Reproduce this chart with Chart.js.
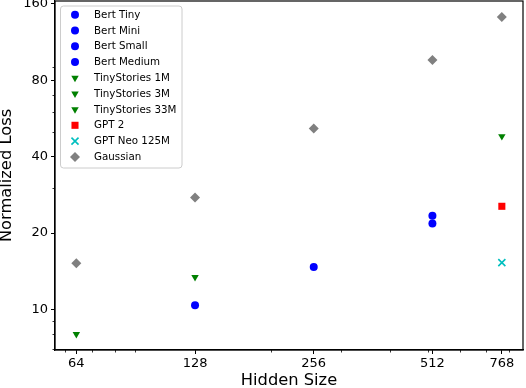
<!DOCTYPE html>
<html>
<head>
<meta charset="utf-8">
<script src="https://cdn.jsdelivr.net/npm/chart.js@4"></script>
<style>
html,body{margin:0;padding:0;background:#fff;}
canvas{display:block;}
</style>
</head>
<body>
<canvas id="c" width="526" height="388"></canvas>
<script>
// ---- data ----
const bertNames = ['Bert Tiny', 'Bert Mini', 'Bert Small', 'Bert Medium'];
const bertSizes = [128, 256, 512, 512];
const bertLoss = [10.4, 14.7, 23.4, 21.8];

const tinyNames = ['TinyStories 1M', 'TinyStories 3M', 'TinyStories 33M'];
const tinySizes = [64, 128, 768];
const tinyLoss = [8.0, 13.4, 48.1];

const gpt2Sizes = [768];
const gpt2Loss = [25.5];

const neoSizes = [768];
const neoLoss = [15.3];

const gaussianSizes = [64, 128, 256, 512, 768];
const gaussianLoss = [15.2, 27.6, 51.6, 96, 142];

const xTicks = [64, 128, 256, 512, 768];
const yTicks = [10, 20, 40, 80, 160];
const xMinorTicks = [60, 70, 80, 90, 200, 300, 400, 500, 600, 700, 800];
const yMinorTicks = [7, 8, 9, 30, 50, 60, 70, 90];

// ---- styles ----
const FONT = "'DejaVu Sans', sans-serif";
const BLUE = '#0000ff', GREEN = '#008000', RED = '#ff0000', CYAN = '#00bfbf', GRAY = '#808080';

const datasets = [];
bertNames.forEach((n, i) => datasets.push({
  label: n, data: [{x: bertSizes[i], y: bertLoss[i]}],
  pointStyle: 'circle', radius: 4, backgroundColor: BLUE, borderColor: BLUE, borderWidth: 0
}));
tinyNames.forEach((n, i) => datasets.push({
  label: n, data: [{x: tinySizes[i], y: tinyLoss[i]}],
  pointStyle: 'triangle', rotation: 180, radius: 4.3, backgroundColor: GREEN, borderColor: GREEN, borderWidth: 0
}));
datasets.push({
  label: 'GPT 2', data: gpt2Sizes.map((x, i) => ({x, y: gpt2Loss[i]})),
  pointStyle: 'rect', radius: 5, backgroundColor: RED, borderColor: RED, borderWidth: 0
});
datasets.push({
  label: 'GPT Neo 125M', data: neoSizes.map((x, i) => ({x, y: neoLoss[i]})),
  pointStyle: 'crossRot', radius: 5, backgroundColor: CYAN, borderColor: CYAN, borderWidth: 1.6
});
datasets.push({
  label: 'Gaussian', data: gaussianSizes.map((x, i) => ({x, y: gaussianLoss[i]})),
  pointStyle: 'rectRot', radius: 5, backgroundColor: GRAY, borderColor: GRAY, borderWidth: 0
});

function drawMarker(ctx, ds, x, y) {
  const opts = {
    pointStyle: ds.pointStyle, radius: ds.radius, rotation: ds.rotation || 0,
    borderWidth: ds.borderWidth
  };
  ctx.save();
  ctx.fillStyle = ds.backgroundColor;
  ctx.strokeStyle = ds.borderColor;
  ctx.lineWidth = ds.borderWidth || 0;
  Chart.helpers.drawPoint(ctx, opts, x, y);
  ctx.restore();
}

function roundRect(ctx, x, y, w, h, r) {
  ctx.beginPath();
  ctx.moveTo(x + r, y);
  ctx.lineTo(x + w - r, y);
  ctx.arcTo(x + w, y, x + w, y + r, r);
  ctx.lineTo(x + w, y + h - r);
  ctx.arcTo(x + w, y + h, x + w - r, y + h, r);
  ctx.lineTo(x + r, y + h);
  ctx.arcTo(x, y + h, x, y + h - r, r);
  ctx.lineTo(x, y + r);
  ctx.arcTo(x, y, x + r, y, r);
  ctx.closePath();
}

const extras = {
  id: 'extras',
  afterDraw(chart) {
    const ctx = chart.ctx;
    const a = chart.chartArea;
    const xs = chart.scales.x, ys = chart.scales.y;
    ctx.save();
    // frame
    ctx.strokeStyle = '#000';
    ctx.lineWidth = 1.2;
    ctx.strokeRect(a.left, a.top, a.right - a.left, a.bottom - a.top);
    // minor ticks
    ctx.lineWidth = 0.8;
    ctx.beginPath();
    xMinorTicks.forEach(v => {
      const px = Math.round(xs.getPixelForValue(v)) + 0.5;
      if (px < a.left || px > a.right) return;
      ctx.moveTo(px, a.bottom); ctx.lineTo(px, a.bottom + 2.5);
    });
    yMinorTicks.forEach(v => {
      const py = Math.round(ys.getPixelForValue(v)) + 0.5;
      if (py < a.top || py > a.bottom) return;
      ctx.moveTo(a.left, py); ctx.lineTo(a.left - 2.5, py);
    });
    ctx.stroke();

    // legend
    const lx = 60.5, ly = 6, lw = 121.5, lh = 162;
    roundRect(ctx, lx, ly, lw, lh, 3);
    ctx.fillStyle = 'rgba(255,255,255,0.8)';
    ctx.fill();
    ctx.strokeStyle = '#cccccc';
    ctx.lineWidth = 1;
    ctx.stroke();
    ctx.font = '10.3px ' + FONT;
    ctx.textBaseline = 'middle';
    ctx.textAlign = 'left';
    chart.data.datasets.forEach((ds, i) => {
      const y = 14.7 + i * 15.8;
      drawMarker(ctx, ds, 75, y);
      ctx.fillStyle = '#000';
      ctx.fillText(ds.label, 94, y + 0.5);
    });
    ctx.restore();
  }
};

new Chart(document.getElementById('c'), {
  type: 'scatter',
  data: { datasets },
  options: {
    responsive: false,
    animation: false,
    layout: { autoPadding: false, padding: { top: 1, right: 3, left: 0, bottom: 0 } },
    plugins: { legend: { display: false }, tooltip: { enabled: false } },
    scales: {
      x: {
        type: 'logarithmic', min: 56.5, max: 869,
        afterBuildTicks: s => { s.ticks = xTicks.map(v => ({value: v})); },
        afterFit: s => { s.height = 38; s.paddingLeft = 0; s.paddingRight = 0; },
        ticks: { callback: v => String(v), color: '#000', font: {family: FONT, size: 13}, padding: 2, maxRotation: 0, autoSkip: false },
        grid: { drawOnChartArea: false, tickLength: 4, tickColor: '#000', tickWidth: 1 },
        border: { color: '#000', width: 1.2 },
        title: { display: true, text: 'Hidden Size', color: '#000', font: {family: FONT, size: 16.3}, padding: {top: 0, bottom: -3} }
      },
      y: {
        type: 'logarithmic', min: 6.93, max: 164,
        afterBuildTicks: s => { s.ticks = yTicks.map(v => ({value: v})); },
        afterFit: s => { s.width = 55; s.paddingTop = 0; s.paddingBottom = 0; },
        ticks: { callback: v => String(v), color: '#000', font: {family: FONT, size: 13}, padding: 3, autoSkip: false },
        grid: { drawOnChartArea: false, tickLength: 4, tickColor: '#000', tickWidth: 1 },
        border: { color: '#000', width: 1.2 },
        title: { display: true, text: 'Normalized Loss', color: '#000', font: {family: FONT, size: 16.3}, padding: {top: -3, bottom: 0} }
      }
    }
  },
  plugins: [extras]
});
</script>
</body>
</html>
